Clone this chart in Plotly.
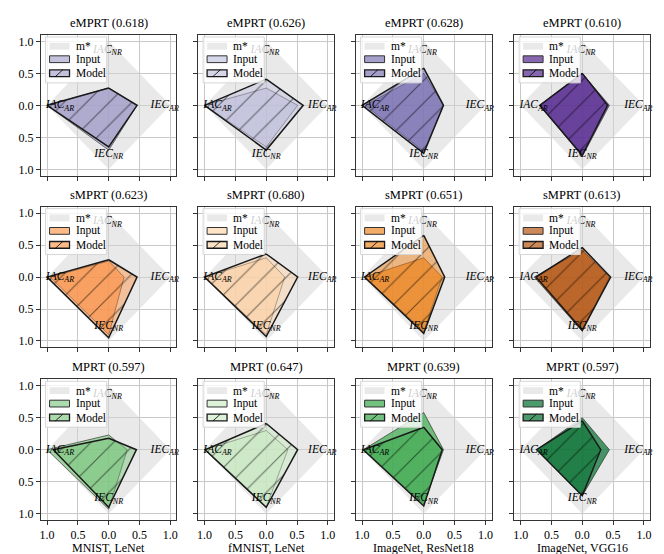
import plotly.graph_objects as go

# ---------------- data ----------------
titles = ["eMPRT (0.618)", "eMPRT (0.626)", "eMPRT (0.628)", "eMPRT (0.610)",
          "sMPRT (0.623)", "sMPRT (0.680)", "sMPRT (0.651)", "sMPRT (0.613)",
          "MPRT (0.597)", "MPRT (0.647)", "MPRT (0.639)", "MPRT (0.597)"]
datasets = ["MNIST, LeNet", "fMNIST, LeNet", "ImageNet, ResNet18", "ImageNet, VGG16"]
# criteria order: top, right, bottom, left
criteria = ["<i>IAC</i><sub><i>NR</i></sub>", "<i>IEC</i><sub><i>AR</i></sub>",
            "<i>IEC</i><sub><i>NR</i></sub>", "<i>IAC</i><sub><i>AR</i></sub>"]
legend_names = ["m*", "Input", "Model"]
m_star = [1.0, 1.0, 1.0, 1.0]
input_values = [
    [0.27, 0.46, 0.70, 1.00], [0.27, 0.51, 0.65, 1.00], [0.50, 0.32, 0.72, 0.95], [0.50, 0.44, 0.80, 0.69],
    [0.25, 0.25, 0.90, 0.95], [0.30, 0.30, 0.90, 1.00], [0.30, 0.30, 0.85, 0.96], [0.42, 0.44, 0.85, 0.78],
    [0.23, 0.30, 0.93, 1.00], [0.30, 0.35, 0.90, 1.00], [0.58, 0.32, 0.85, 0.98], [0.50, 0.44, 0.72, 0.74],
]
model_values = [
    [0.27, 0.46, 0.65, 1.00], [0.41, 0.60, 0.70, 1.00], [0.58, 0.32, 0.75, 1.00], [0.50, 0.41, 0.78, 0.69],
    [0.27, 0.46, 0.95, 1.00], [0.36, 0.51, 0.93, 1.00], [0.65, 0.34, 0.88, 0.96], [0.46, 0.46, 0.83, 0.75],
    [0.18, 0.45, 0.90, 0.90], [0.41, 0.51, 0.90, 0.99], [0.35, 0.30, 0.88, 0.98], [0.45, 0.30, 0.72, 0.74],
]
colors = ["#9e9ac8", "#bcbddc", "#756bb1", "#54278f",
          "#fd8d3c", "#fdd0a2", "#ec7f14", "#b04a00",
          "#74c476", "#c7e9c0", "#37a84a", "#006d2c"]
alphas = [0.6, 0.6, 0.65, 0.7,
          0.6, 0.6, 0.65, 0.65,
          0.6, 0.6, 0.7, 0.7]
tick_vals = [-1.0, -0.5, 0.0, 0.5, 1.0]
tick_text = ["1.0", "0.5", "0.0", "0.5", "1.0"]

# ---------------- layout geometry ----------------
W, H = 664, 554
col_px = [(32, 168), (190, 326), (348, 484), (507, 643)]
row_px = [(27, 168), (199, 340), (372, 513)]
FONT = "Liberation Serif"
MSTAR_FILL = "rgba(211,211,211,0.5)"


def rgba(hex_color, a):
    h = hex_color.lstrip("#")
    r, g, b = int(h[0:2], 16), int(h[2:4], 16), int(h[4:6], 16)
    return f"rgba({r},{g},{b},{a})"


def polygon(vals):
    t, r, b, l = vals
    xs = [0.0, r, 0.0, -l, 0.0]
    ys = [t, 0.0, -b, 0.0, t]
    return xs, ys


def px(x):
    return x / W


def py(y):
    return 1 - y / H


fig = go.Figure()
layout = dict(width=W, height=H, margin=dict(l=0, r=0, t=0, b=0),
              plot_bgcolor="white", paper_bgcolor="white", showlegend=False,
              font=dict(family=FONT, size=12, color="black"))
annotations = []
shapes = []

# label centre points (radar axes): top, right, bottom, left
lab_x = [-0.02, 0.91, 0.0, -0.79]
lab_y = [0.87, 0.0, -0.76, 0.0]

for i in range(12):
    r, c = divmod(i, 4)
    sfx = "" if i == 0 else str(i + 1)
    X0, X1 = col_px[c]
    Y0, Y1 = row_px[r]
    xd = [px(X0), px(X1)]
    yd = [py(Y1), py(Y0)]
    common = dict(range=[-1.1, 1.1], tickvals=tick_vals, ticktext=tick_text,
                  ticks="outside", ticklen=4, tickcolor="#333", tickwidth=1,
                  showgrid=True, gridcolor="#c8c8c8", gridwidth=1.2,
                  zeroline=False, showline=True, mirror=True, linecolor="#333",
                  linewidth=1, fixedrange=True,
                  tickfont=dict(family=FONT, size=12, color="black"))
    layout["xaxis" + sfx] = dict(domain=xd, anchor="y" + sfx, showticklabels=(r == 2), **common)
    layout["yaxis" + sfx] = dict(domain=yd, anchor="x" + sfx, showticklabels=(c == 0), **common)
    xa, ya = "x" + sfx, "y" + sfx

    xs, ys = polygon(m_star)
    fig.add_trace(go.Scatter(x=xs, y=ys, mode="lines", fill="toself",
                             fillcolor=MSTAR_FILL, line=dict(width=0, color="rgba(0,0,0,0)"),
                             name=legend_names[0], xaxis=xa, yaxis=ya, hoverinfo="skip"))
    xs, ys = polygon(input_values[i])
    fig.add_trace(go.Scatter(x=xs, y=ys, mode="lines", fill="toself",
                             fillcolor=rgba(colors[i], alphas[i]),
                             line=dict(width=1, color="rgba(30,30,30,0.6)"),
                             name=legend_names[1], xaxis=xa, yaxis=ya, hoverinfo="skip"))
    xs, ys = polygon(model_values[i])
    fig.add_trace(go.Scatter(x=xs, y=ys, mode="lines", fill="toself",
                             fillcolor=rgba(colors[i], alphas[i] * 0.75),
                             fillpattern=dict(shape="/", size=16, solidity=0.07,
                                              fgcolor="black", bgcolor=rgba(colors[i], alphas[i] * 0.75)),
                             line=dict(width=1.5, color="#1a1a1a"),
                             name=legend_names[2], xaxis=xa, yaxis=ya, hoverinfo="skip"))
    # criterion labels as a text trace (so the legend box can sit over them)
    fig.add_trace(go.Scatter(x=lab_x, y=lab_y, mode="text", text=criteria,
                             textposition="middle center", cliponaxis=False,
                             textfont=dict(family=FONT, size=11.5, color="black"),
                             xaxis=xa, yaxis=ya, hoverinfo="skip"))

    # hand-drawn legend (matplotlib style)
    shapes.append(dict(type="rect", xref="paper", yref="paper", layer="above",
                       x0=px(X0 + 4.7), x1=px(X0 + 66), y0=py(Y0 + 48), y1=py(Y0 + 2),
                       fillcolor="rgba(255,255,255,0.8)", line=dict(color="#d6d6d6", width=1)))
    rows_y = [Y0 + 11.3, Y0 + 24.3, Y0 + 38.3]
    sw_fill = [MSTAR_FILL, rgba(colors[i], alphas[i]), rgba(colors[i], alphas[i])]
    sw_line = [dict(width=0), dict(color="#333", width=1), dict(color="#1a1a1a", width=1.3)]
    for k in range(3):
        yc = rows_y[k]
        shapes.append(dict(type="rect", xref="paper", yref="paper", layer="above",
                           x0=px(X0 + 8.7), x1=px(X0 + 28.7), y0=py(yc + 3.4), y1=py(yc - 3.4),
                           fillcolor=sw_fill[k], line=sw_line[k]))
        annotations.append(dict(x=px(X0 + 33), y=py(yc), xref="paper", yref="paper",
                                text=legend_names[k], showarrow=False, xanchor="left", yanchor="middle",
                                font=dict(family=FONT, size=11.5, color="black")))
    yc = rows_y[2]
    shapes.append(dict(type="line", xref="paper", yref="paper", layer="above",
                       x0=px(X0 + 14.5), x1=px(X0 + 22), y0=py(yc + 3.4), y1=py(yc - 3.4),
                       line=dict(color="black", width=0.8)))

    # title
    annotations.append(dict(x=(xd[0] + xd[1]) / 2, y=yd[1] + 3 / H, xref="paper", yref="paper",
                            text=titles[i], showarrow=False, xanchor="center", yanchor="bottom",
                            font=dict(family=FONT, size=12.5, color="black")))
    if r == 2:
        annotations.append(dict(x=(xd[0] + xd[1]) / 2, y=py(541), xref="paper", yref="paper",
                                text=datasets[c], showarrow=False, xanchor="center", yanchor="middle",
                                font=dict(family=FONT, size=12, color="black")))

layout["annotations"] = annotations
layout["shapes"] = shapes
fig.update_layout(**layout)
fig.write_html("out.html")
